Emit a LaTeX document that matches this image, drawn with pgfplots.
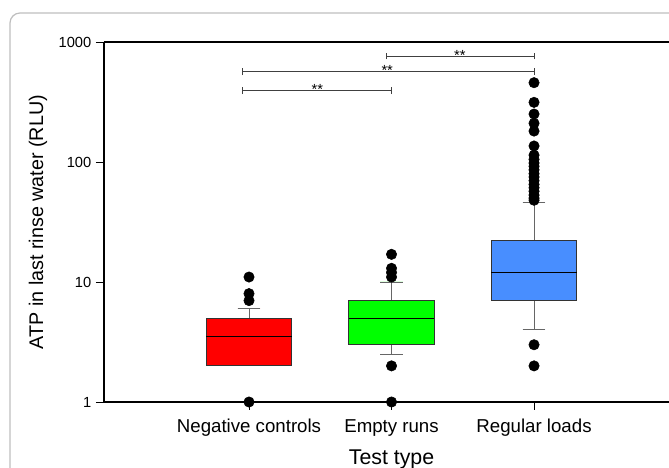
\documentclass[border=0pt]{standalone}
\usepackage{fontspec}
\setmainfont{Liberation Sans}
\setsansfont{Liberation Sans}
\usepackage{pgfplots}
\pgfplotsset{compat=1.18}
\usepgfplotslibrary{statistics}
\definecolor{boxred}{RGB}{255,0,0}
\definecolor{boxgreen}{RGB}{0,255,0}
\definecolor{boxblue}{RGB}{72,142,255}
\definecolor{framegray}{RGB}{190,190,190}
\tikzset{sig/.style={black!75, line width=0.7pt}, star/.style={font=\fontsize{11}{12}\selectfont, anchor=base, inner sep=0pt, yshift=-3pt}}
\begin{document}
\begin{tikzpicture}
\useasboundingbox (0pt,0pt) rectangle (501.75pt,351pt);
\clip (0pt,0pt) rectangle (501.75pt,351pt);
\draw[framegray, line width=0.9pt, rounded corners=7.5pt] (7.5pt,-15pt) rectangle (525pt,341.25pt);
\begin{axis}[
  at={(78pt,49.5pt)}, anchor=south west,
  scale only axis, width=423.75pt, height=270pt,
  xmin=-0.0175, xmax=3.947,
  ymode=log, ymin=1, ymax=1000,
  ytick={1,10,100,1000}, yticklabels={1,10,100,1000},
  yminorticks=false,
  xtick={1,2,3}, xticklabels={Negative controls,Empty runs,Regular loads},
  axis x line*=bottom, axis y line*=left,
  axis line style={-, black, line width=0.8pt},
  tick align=outside,
  major tick length=6pt,
  tick style={black, line width=0.7pt},
  /pgf/number format/assume math mode=true,
  yticklabel style={font=\fontsize{11}{12}\selectfont},
  xticklabel style={font=\fontsize{14}{16}\selectfont, anchor=base, yshift=-17pt},
  xlabel={Test type},
  xlabel style={font=\fontsize{16}{18}\selectfont, at={(axis cs:2,1)}, anchor=base, yshift=-47pt},
  ylabel={ATP in last rinse water (RLU)},
  ylabel style={font=\fontsize{14.8}{16}\selectfont, at={(rel axis cs:0,0.5)}, anchor=center, yshift=49.5pt},
  boxplot/draw direction=y,
  boxplot/box extend=0.6,
  boxplot/whisker extend=0.16,
  boxplot/every box/.style={draw=black!80, line width=0.7pt},
  boxplot/every whisker/.style={draw=black!60, line width=0.7pt},
  boxplot/every median/.style={draw=black, line width=0.7pt},
  clip=false,
]
\addplot[boxplot prepared={draw position=1, lower whisker=2, lower quartile=2, median=3.5, upper quartile=5, upper whisker=6},
  fill=boxred, mark=*, mark size=3.9pt, mark options={draw=black, fill=black}]
  table[row sep=\\, y index=0] {11\\ 8\\ 7\\ 1\\};
\addplot[boxplot prepared={draw position=2, lower whisker=2.5, lower quartile=3, median=5, upper quartile=7, upper whisker=10},
  fill=boxgreen, mark=*, mark size=3.9pt, mark options={draw=black, fill=black}]
  table[row sep=\\, y index=0] {17\\ 13\\ 12\\ 11\\ 2\\ 1\\};
\addplot[boxplot prepared={draw position=3, lower whisker=4, lower quartile=7, median=12, upper quartile=22, upper whisker=46},
  fill=boxblue, mark=*, mark size=3.9pt, mark options={draw=black, fill=black}]
  table[row sep=\\, y index=0] {458\\ 314\\ 251\\ 210\\ 181\\ 136\\ 114\\ 105\\ 98\\ 92\\ 86\\ 80\\ 75\\ 70\\ 65\\ 61\\ 57\\ 53\\ 50\\ 48\\ 3\\ 2\\};
% significance brackets
\draw[sig] (axis cs:1.966,764) -- (axis cs:3.0,764);
\draw[sig] ([yshift=-2.6pt]axis cs:1.966,764) -- ([yshift=2.6pt]axis cs:1.966,764);
\draw[sig] ([yshift=-2.6pt]axis cs:3.0,764) -- ([yshift=2.6pt]axis cs:3.0,764);
\node[star] at (axis cs:2.48,764) {**};
\draw[sig] (axis cs:0.956,566) -- (axis cs:3.0,566);
\draw[sig] ([yshift=-2.6pt]axis cs:0.956,566) -- ([yshift=2.6pt]axis cs:0.956,566);
\draw[sig] ([yshift=-2.6pt]axis cs:3.0,566) -- ([yshift=2.6pt]axis cs:3.0,566);
\node[star] at (axis cs:1.97,566) {**};
\draw[sig] (axis cs:0.956,393) -- (axis cs:2.0,393);
\draw[sig] ([yshift=-2.6pt]axis cs:0.956,393) -- ([yshift=2.6pt]axis cs:0.956,393);
\draw[sig] ([yshift=-2.6pt]axis cs:2.0,393) -- ([yshift=2.6pt]axis cs:2.0,393);
\node[star] at (axis cs:1.48,393) {**};
\draw[black, line width=0.8pt] (rel axis cs:0,1) -- (rel axis cs:1,1);
\end{axis}
\end{tikzpicture}
\end{document}
